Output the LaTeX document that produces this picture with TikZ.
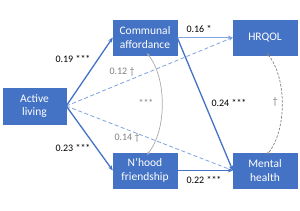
\documentclass[tikz,border=0pt]{standalone}
\usepackage{fontspec}
\setmainfont{Carlito}
\usetikzlibrary{arrows.meta}
\definecolor{boxblue}{RGB}{68,114,196}
\definecolor{dashblue}{RGB}{125,162,222}
\definecolor{lightblue}{RGB}{130,165,225}
\definecolor{lblgray}{RGB}{128,128,128}
\definecolor{arcgray}{RGB}{170,170,170}
\begin{document}
\begin{tikzpicture}[x=1pt,y=-1pt,
 box/.style={fill=boxblue, draw=boxblue, text=white, minimum width=64pt, minimum height=35pt, inner sep=1pt, align=center, font=\fontsize{11.5}{13.5}\selectfont},
 solidpath/.style={draw=boxblue, line width=1.3pt, -{Stealth[length=5pt,width=4pt]}},
 lightpath/.style={draw=lightblue, line width=1pt, -{Stealth[length=5pt,width=4pt]}},
 dashpath/.style={draw=dashblue, line width=0.8pt, dash pattern=on 4pt off 2.5pt, -{Stealth[length=4pt,width=3.5pt]}},
 corr/.style={draw=arcgray, line width=0.7pt, {Stealth[length=3.5pt,width=3pt]}-{Stealth[length=3.5pt,width=3pt]}},
 dcorr/.style={draw=lblgray, line width=0.7pt, dash pattern=on 2.5pt off 1.5pt, {Stealth[length=3.5pt,width=3pt]}-{Stealth[length=3.5pt,width=3pt]}},
 lbl/.style={font=\fontsize{10}{12}\selectfont, text=black},
 glbl/.style={font=\fontsize{10}{12}\selectfont, text=lblgray},
]
\useasboundingbox (0,0) rectangle (300,210);
\node[box, minimum width=63pt, minimum height=36pt] (al) at (34.5,106) {Active\\living};
\node[box] (ca) at (145,37.5) {Communal\\affordance};
\node[box] (hq) at (265,37.5) {HRQOL};
\node[box] (nf) at (145,170.5) {N’hood\\friendship};
\node[box] (mh) at (265,170.5) {Mental\\health};

\draw[dashpath] (al.east) -- (hq.west);
\draw[dashpath] (al.east) -- (mh.west);
\draw[solidpath] (al.east) -- (ca.west);
\draw[solidpath] (al.east) -- (nf.west);
\draw[lightpath] (ca.east) -- (hq.west);
\draw[solidpath] (ca.east) -- (mh.west);
\draw[solidpath] (nf.east) -- (mh.west);

\draw[corr] ([xshift=2pt,yshift=2pt]ca.south) .. controls +(20,25) and +(20,-25) .. ([xshift=2pt,yshift=-2pt]nf.north);
\draw[dcorr] ([xshift=2pt,yshift=2pt]hq.south) .. controls +(20,25) and +(20,-25) .. ([xshift=2pt,yshift=-2pt]mh.north);

\node[lbl] (l1) at (73,59) {0.19 ***};
\node[lbl] (l2) at (73,148) {0.23 ***};
\node[lbl] (l3) at (199,29) {0.16 *};
\node[lbl] (l4) at (229,103) {0.24 ***};
\node[lbl] (l5) at (204,180) {0.22 ***};
\node[glbl] (g1) at (122,72) {0.12 †};
\node[glbl] (g2) at (127,138) {0.14 †};
\node[glbl] (g3) at (146,103) {***};
\node[glbl] (g4) at (275,102) {†};
\end{tikzpicture}
\end{document}
